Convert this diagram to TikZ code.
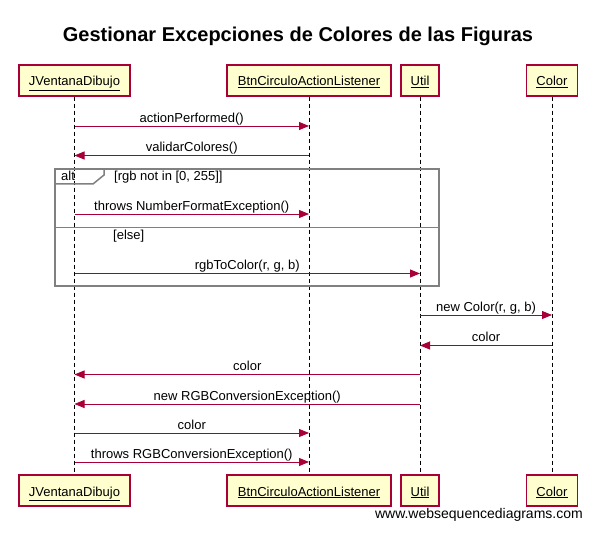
\documentclass[tikz,border=0pt]{standalone}
\usepackage{fontspec}
\setmainfont{Liberation Sans}
\usetikzlibrary{arrows.meta}
\definecolor{wsdred}{HTML}{A80036}
\definecolor{wsdfill}{HTML}{FEFECE}
\definecolor{wsdgray}{HTML}{808080}
\tikzset{
  actor/.style={draw=wsdred, fill=wsdfill, line width=1.3pt, minimum height=31pt, inner sep=0pt, text height=11pt, text depth=0pt, font=\fontsize{13}{15}\selectfont},
  lifeline/.style={draw=black, line width=0.9pt, dash pattern=on 4pt off 3pt},
  msg/.style={draw=wsdred, line width=0.9pt, -{Triangle[length=10pt,width=8pt]}},
  msglabel/.style={inner sep=0pt, text depth=3pt, font=\fontsize{13}{15}\selectfont},
  plain/.style={anchor=base west, inner sep=0pt, font=\fontsize{13}{15}\selectfont},
  framebox/.style={draw=wsdgray, line width=2pt},
}
\begin{document}
\begin{tikzpicture}[x=1pt,y=-1pt]
\useasboundingbox (0,0) rectangle (591,534);
\fill[white] (0,0) rectangle (591,534);
\node[font=\fontsize{20}{24}\selectfont\bfseries] (title) at (298,36) {Gestionar Excepciones de Colores de las Figuras};
% top actors
\node[actor, minimum width=111pt] (jt) at (74.5,80.5) {\underline{JVentanaDibujo}};
\node[actor, minimum width=164pt] (bt) at (309,80.5) {\underline{BtnCirculoActionListener}};
\node[actor, minimum width=38pt] (ut) at (420,80.5) {\underline{Util}};
\node[actor, minimum width=51pt] (ct) at (552,80.5) {\underline{Color}};
% bottom actors
\node[actor, minimum width=111pt] (jb) at (74.5,490.5) {\underline{JVentanaDibujo}};
\node[actor, minimum width=164pt] (bb) at (309,490.5) {\underline{BtnCirculoActionListener}};
\node[actor, minimum width=38pt] (ub) at (420,490.5) {\underline{Util}};
\node[actor, minimum width=51pt] (cb) at (552,490.5) {\underline{Color}};
% lifelines
\draw[lifeline] (jt.south) -- (jb.north);
\draw[lifeline] (bt.south) -- (bb.north);
\draw[lifeline] (ut.south) -- (ub.north);
\draw[lifeline] (ct.south) -- (cb.north);
% alt frame
\draw[framebox] (55,169.5) rectangle (439,286);
\draw[wsdgray, line width=1.5pt] (55,184) -- (93,184) -- (104,175) -- (104,169.5);
\draw[wsdgray, line width=0.8pt] (55,227.5) -- (439,227.5);
\node[plain] (alt) at (61,180.5) {alt};
\node[plain] (guard1) at (114,181) {[rgb not in [0, 255]]};
\node[plain] (guard2) at (113,240) {[else]};
% messages
\draw[msg] (jt.south |- 0,126) -- (bt.south |- 0,126) node[msglabel, midway, above=0.5pt] {actionPerformed()};
\draw[msg] (bt.south |- 0,155.5) -- (jt.south |- 0,155.5) node[msglabel, midway, above=0.5pt] {validarColores()};
\draw[msg] (jt.south |- 0,214) -- (bt.south |- 0,214) node[msglabel, midway, above=0.5pt] {throws NumberFormatException()};
\draw[msg] (jt.south |- 0,273.5) -- (ut.south |- 0,273.5) node[msglabel, midway, above=0.5pt] {rgbToColor(r, g, b)};
\draw[msg] (ut.south |- 0,315) -- (ct.south |- 0,315) node[msglabel, midway, above=0.5pt] {new Color(r, g, b)};
\draw[msg] (ct.south |- 0,345.5) -- (ut.south |- 0,345.5) node[msglabel, midway, above=0.5pt] {color};
\draw[msg] (ut.south |- 0,374.5) -- (jt.south |- 0,374.5) node[msglabel, midway, above=0.5pt] {color};
\draw[msg] (ut.south |- 0,404) -- (jt.south |- 0,404) node[msglabel, midway, above=0.5pt] {new RGBConversionException()};
\draw[msg] (jt.south |- 0,433) -- (bt.south |- 0,433) node[msglabel, midway, above=0.5pt] {color};
\draw[msg] (jt.south |- 0,462) -- (bt.south |- 0,462) node[msglabel, midway, above=0.5pt] {throws RGBConversionException()};
% watermark
\node[anchor=east, inner sep=0pt, font=\fontsize{14}{16}\selectfont] (wm) at (583,515) {www.websequencediagrams.com};
\end{tikzpicture}
\end{document}
